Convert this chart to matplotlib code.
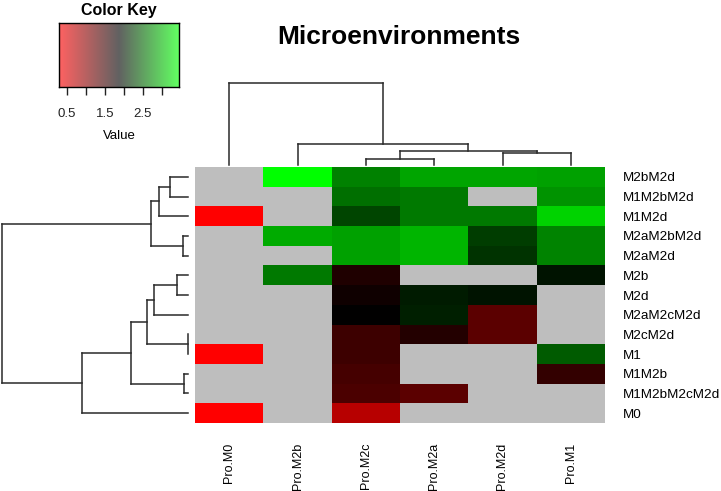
import numpy as np
import matplotlib
matplotlib.use("Agg")
import matplotlib.pyplot as plt
from matplotlib.colors import LinearSegmentedColormap

plt.rcParams['font.family'] = ['Liberation Sans', 'DejaVu Sans']

# data (rows top to bottom, columns left to right as displayed)
row_labels = ["M2bM2d", "M1M2bM2d", "M1M2d", "M2aM2bM2d", "M2aM2d", "M2b", "M2d",
              "M2aM2cM2d", "M2cM2d", "M1", "M1M2b", "M1M2bM2cM2d", "M0"]
col_labels = ["Pro.M0", "Pro.M2b", "Pro.M2c", "Pro.M2a", "Pro.M2d", "Pro.M1"]
nan = np.nan
values = np.array([
    [nan, 3.46, 2.67, 2.90, 2.90, 2.87],
    [nan, nan, 2.56, 2.62, nan, 2.78],
    [0.30, nan, 2.31, 2.62, 2.62, 3.18],
    [nan, 2.93, 2.87, 2.99, 2.25, 2.69],
    [nan, nan, 2.87, 2.99, 2.19, 2.69],
    [nan, 2.62, 1.69, nan, nan, 2.00],
    [nan, nan, 1.79, 2.04, 2.00, nan],
    [nan, nan, 1.87, 2.07, 1.32, nan],
    [nan, nan, 1.51, 1.66, 1.32, nan],
    [0.30, nan, 1.51, nan, nan, 2.44],
    [nan, nan, 1.45, nan, nan, 1.57],
    [nan, nan, 1.42, 1.32, nan, nan],
    [0.30, nan, 0.76, nan, nan, nan],
])
vmin, vmax = 0.305, 3.455

# merges: (left, right, height); ids >= n refer to earlier merges
col_merges = [(2, 3, 5.7), (4, 5, 11.7), (6, 7, 14.0), (1, 8, 21.0), (0, 9, 81.7)]
row_merges = [(0, 1, 18.3), (13, 2, 29.0), (3, 4, 5.6), (14, 15, 37.6),
              (5, 6, 11.6), (17, 7, 34.3), (8, 9, 0.6), (18, 19, 41.3),
              (10, 11, 4.0), (20, 21, 57.6), (22, 12, 106.6), (16, 23, 186.6)]


def dendro_segments(n, merges):
    pos = {i: i + 0.5 for i in range(n)}
    hgt = {i: 0.0 for i in range(n)}
    segs = []
    for k, (a, b, h) in enumerate(merges):
        segs.append(((pos[a], hgt[a]), (pos[a], h)))
        segs.append(((pos[b], hgt[b]), (pos[b], h)))
        segs.append(((pos[a], h), (pos[b], h)))
        pos[n + k] = (pos[a] + pos[b]) / 2
        hgt[n + k] = h
    return segs


W, H = 721, 491
fig = plt.figure(figsize=(W / 100, H / 100), dpi=100)


def px_axes(x0, y0, x1, y1):
    return fig.add_axes([x0 / W, 1 - y1 / H, (x1 - x0) / W, (y1 - y0) / H])


cmap = LinearSegmentedColormap.from_list("rg", ["#ff0000", "#000000", "#00ff00"])
cmap.set_bad("#bebebe")

# heatmap
ax = px_axes(195, 167, 605, 423)
nr, nc = values.shape
ax.pcolormesh(np.arange(nc + 1), np.arange(nr + 1), np.ma.masked_invalid(values),
              cmap=cmap, vmin=vmin, vmax=vmax)
ax.set_xlim(0, nc)
ax.set_ylim(nr, 0)
ax.set_xticks(np.arange(nc) + 0.5)
ax.set_xticklabels(col_labels, rotation=90, fontsize=9, va='top')
ax.set_yticks(np.arange(nr) + 0.5)
ax.set_yticklabels(row_labels, fontsize=9.7)
ax.yaxis.tick_right()
ax.tick_params(axis='x', length=0, pad=14)
ax.tick_params(axis='y', length=0, pad=13)
for s in ax.spines.values():
    s.set_visible(False)

lc = '#2a2a2a'
# column dendrogram
axc = px_axes(195, 83.3, 605, 165)
for (x0, y0), (x1, y1) in dendro_segments(nc, col_merges):
    axc.plot([x0, x1], [y0, y1], color=lc, lw=1.1, clip_on=False)
axc.set_xlim(0, nc)
axc.set_ylim(0, col_merges[-1][2])
axc.axis('off')

# row dendrogram
axr = px_axes(1.7, 167, 188.3, 423)
for (y0, x0), (y1, x1) in dendro_segments(nr, row_merges):
    axr.plot([x0, x1], [y0, y1], color=lc, lw=1.1, clip_on=False)
axr.set_ylim(nr, 0)
axr.set_xlim(row_merges[-1][2], 0)
axr.axis('off')

# color key
axk = px_axes(59.3, 23.3, 179, 86.7)
grad = np.linspace(vmin, vmax, 256).reshape(1, -1)
axk.imshow(grad, cmap=cmap, vmin=vmin, vmax=vmax, aspect='auto', alpha=0.62,
           extent=[vmin, vmax, 0, 1])
axk.set_xlim(vmin, vmax)
axk.set_ylim(0, 1)
axk.set_yticks([])
axk.set_xticks([0.5, 1.0, 1.5, 2.0, 2.5, 3.0])
axk.set_xticklabels(["0.5", "", "1.5", "", "2.5", ""], fontsize=9.5)
axk.tick_params(axis='x', length=5.5, width=1, pad=10, colors='#222222')
for s in axk.spines.values():
    s.set_linewidth(1)
axk.set_title("Color Key", fontsize=11.5, fontweight='bold', pad=6)
axk.set_xlabel("Value", fontsize=9.5, labelpad=7)

fig.text(399 / W, 1 - 37 / H, "Microenvironments", fontsize=19, fontweight='bold',
         ha='center', va='center')

fig.savefig("out.png", dpi=100)
